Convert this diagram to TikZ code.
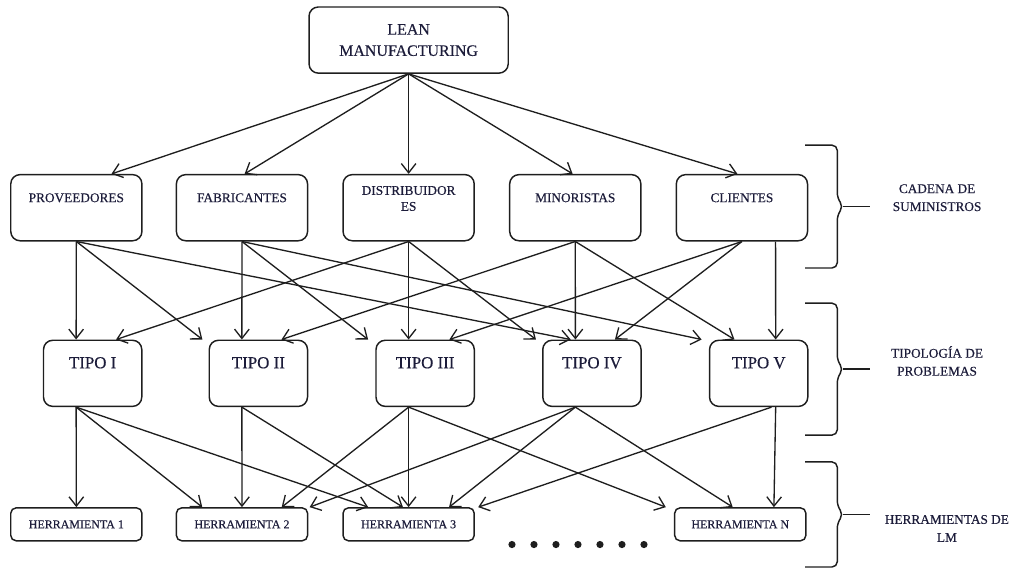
\documentclass[tikz,border=0pt]{standalone}
\usepackage{fontspec}
\setmainfont{Liberation Serif}[FakeBold=0.4]
\usepackage{tikz}
\usetikzlibrary{positioning, arrows.meta}
\usepackage{xcolor}
\definecolor{lmInk}{RGB}{28, 28, 58}
\definecolor{lmLine}{RGB}{30, 30, 30}

\begin{document}
\begin{tikzpicture}[
    node distance=0.9cm,
    lmbox/.style={
        rectangle,
        rounded corners=7pt,
        minimum width=5.27cm,
        minimum height=1.75cm,
        align=center,
        font={\fontsize{12}{16}\selectfont},
        text=lmInk,
        draw=lmLine,
        line width=1.1pt
    },
    actorbox/.style={
        rectangle,
        rounded corners=7pt,
        minimum width=3.47cm,
        minimum height=1.75cm,
        align=center,
        font={\fontsize{10}{12}\selectfont},
        text=lmInk,
        draw=lmLine,
        line width=1.1pt
    },
    tipobox/.style={
        rectangle,
        rounded corners=7pt,
        minimum width=2.6cm,
        minimum height=1.75cm,
        align=center,
        font={\fontsize{12.7}{15}\selectfont},
        text=lmInk,
        draw=lmLine,
        line width=1.1pt
    },
    toolbox/.style={
        rectangle,
        rounded corners=4pt,
        minimum width=3.47cm,
        minimum height=0.87cm,
        align=center,
        font={\fontsize{9}{11}\selectfont},
        text=lmInk,
        draw=lmLine,
        line width=1.1pt
    },
    lmarrow/.style={
        -{Straight Barb[length=7pt,width=11pt]},
        draw=lmLine,
        line width=1pt
    },
    bracket/.style={
        draw=lmLine,
        line width=1.1pt,
        rounded corners=4pt
    },
    sidelabel/.style={
        align=center,
        font={\fontsize{10}{13.5}\selectfont},
        text=lmInk
    }
]

\useasboundingbox (0,0) rectangle (27.01,-15.11);

% Top
\node[lmbox] (lean) at (10.81,-1.06) {LEAN\\MANUFACTURING};

% Supply chain row (text sits high in the box)
\node[actorbox, below=2.646cm of lean] (dist) {DISTRIBUIDOR\\ES\\[2pt]\mbox{}};
\node[actorbox, left=of dist] (fab) {FABRICANTES\\[3pt]\mbox{}};
\node[actorbox, left=0.873cm of fab] (prov) {PROVEEDORES\\[3pt]\mbox{}};
\node[actorbox, right=of dist] (mino) {MINORISTAS\\[3pt]\mbox{}};
\node[actorbox, right=of mino] (cli) {CLIENTES\\[3pt]\mbox{}};

% Problem types row
\node[tipobox, below=2.593cm of dist, xshift=0.437cm] (t3) {TIPO III\\[1pt]\mbox{}};
\node[tipobox, left=1.773cm of t3] (t2) {TIPO II\\[1pt]\mbox{}};
\node[tipobox, left=1.746cm of t2] (t1) {TIPO I\\[1pt]\mbox{}};
\node[tipobox, right=1.773cm of t3] (t4) {TIPO IV\\[1pt]\mbox{}};
\node[tipobox, right=1.773cm of t4] (t5) {TIPO V\\[1pt]\mbox{}};

% Tools row
\node[toolbox, below=2.646cm of t3, xshift=-0.437cm] (h3) {HERRAMIENTA 3};
\node[toolbox, left=of h3] (h2) {HERRAMIENTA 2};
\node[toolbox, left=0.873cm of h2] (h1) {HERRAMIENTA 1};
\node[toolbox, right=5.265cm of h3] (hn) {HERRAMIENTA N};

% Dots
\foreach \k in {0,...,6}
    \fill[lmLine] ([xshift={0.98cm+\k*0.582cm}, yshift=-0.08cm]h3.south east) circle (0.095cm);

% Lean -> supply chain
\draw[lmarrow] (lean.south) -- ([xshift=0.93cm]prov.north);
\draw[lmarrow] (lean.south) -- ([xshift=0.07cm]fab.north);
\draw[lmarrow] (lean.south) -- (dist.north);
\draw[lmarrow] (lean.south) -- ([xshift=-0.07cm]mino.north);
\draw[lmarrow] (lean.south) -- ([xshift=-0.12cm]cli.north);

% Supply chain -> problem types
\draw[lmarrow] (prov.south) -- ([xshift=-0.437cm]t1.north);
\draw[lmarrow] (prov.south) -- ([xshift=-1.48cm]t2.north);
\draw[lmarrow] (prov.south) -- ([xshift=-0.56cm]t4.north);
\draw[lmarrow] (fab.south) -- ([xshift=-0.437cm]t2.north);
\draw[lmarrow] (fab.south) -- ([xshift=-1.51cm]t3.north);
\draw[lmarrow] (fab.south) -- ([xshift=-1.51cm]t5.north);
\draw[lmarrow] (dist.south) -- ([xshift=0.62cm]t1.north);
\draw[lmarrow] (dist.south) -- ([xshift=-0.437cm]t3.north);
\draw[lmarrow] (dist.south) -- ([xshift=-1.48cm]t4.north);
\draw[lmarrow] (mino.south) -- ([xshift=0.61cm]t2.north);
\draw[lmarrow] (mino.south) -- ([xshift=-0.437cm]t4.north);
\draw[lmarrow] (mino.south) -- ([xshift=-0.64cm]t5.north);
\draw[lmarrow] (cli.south) -- ([xshift=0.64cm]t3.north);
\draw[lmarrow] (cli.south) -- ([xshift=0.61cm]t4.north);
\draw[lmarrow] ([xshift=0.89cm]cli.south) -- ([xshift=0.45cm]t5.north);

% Problem types -> tools
\draw[lmarrow] ([xshift=-0.437cm]t1.south) -- (h1.north);
\draw[lmarrow] ([xshift=-0.437cm]t1.south) -- ([xshift=-1.05cm]h2.north);
\draw[lmarrow] ([xshift=-0.437cm]t1.south) -- ([xshift=-1.07cm]h3.north);
\draw[lmarrow] ([xshift=-0.437cm]t2.south) -- (h2.north);
\draw[lmarrow] ([xshift=-0.437cm]t2.south) -- ([xshift=-0.15cm]h3.north);
\draw[lmarrow] ([xshift=-0.437cm]t3.south) -- ([xshift=1.05cm]h2.north);
\draw[lmarrow] ([xshift=-0.437cm]t3.south) -- (h3.north);
\draw[lmarrow] ([xshift=-0.437cm]t3.south) -- ([xshift=-1.97cm]hn.north);
\draw[lmarrow] ([xshift=-0.437cm]t4.south) -- ([xshift=1.79cm]h2.north);
\draw[lmarrow] ([xshift=-0.437cm]t4.south) -- ([xshift=1.07cm]h3.north);
\draw[lmarrow] ([xshift=-0.437cm]t4.south) -- ([xshift=-0.2cm]hn.north);
\draw[lmarrow] ([xshift=0.34cm]t5.south) -- ([xshift=1.84cm]h3.north);
\draw[lmarrow] ([xshift=0.45cm]t5.south) -- ([xshift=0.89cm]hn.north);

% Braces
\foreach \yt/\yb in {-3.84/-7.09, -8.02/-11.51, -12.22/-15.0} {
    \pgfmathsetmacro{\ym}{(\yt+\yb)/2}
    \draw[bracket] (21.30,\yt) -- (22.15,\yt) -- (22.15,\ym+0.22) -- (22.31,\ym)
        -- (22.15,\ym-0.22) -- (22.15,\yb) -- (21.30,\yb);
    \draw[bracket] (22.31,\ym) -- (23.02,\ym);
}

% Side labels
\node[sidelabel] (cadena) at (24.79,-5.23) {CADENA DE\\SUMINISTROS};
\node[sidelabel] (tipologia) at (24.79,-9.55) {TIPOLOGÍA DE\\PROBLEMAS};
\node[sidelabel] (herrlm) at (25.05,-13.98) {HERRAMIENTAS DE\\LM};

\end{tikzpicture}
\end{document}
